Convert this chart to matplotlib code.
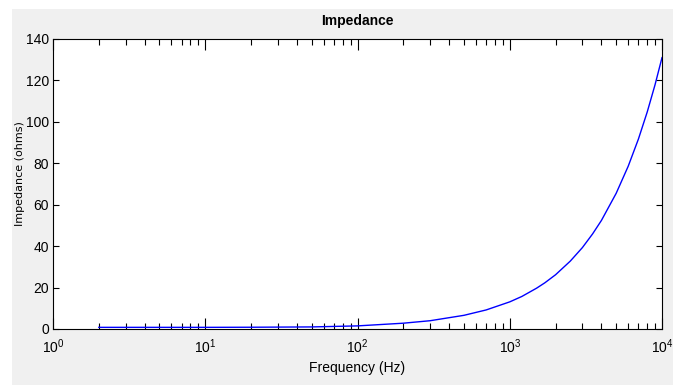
import matplotlib
matplotlib.use("Agg")
import matplotlib.pyplot as plt
from matplotlib.patches import Rectangle
from matplotlib.ticker import LogLocator, NullFormatter

# Values
freq_hz = [2, 5, 10, 20, 50, 100, 200, 300, 500, 700, 1000, 1200, 1500, 1700,
           2000, 2500, 3000, 3500, 4000, 5000, 6000, 7000, 8000, 9000, 10000]
impedance_ohms = [0.8, 0.8, 0.8, 0.85, 1.0, 1.5, 2.8, 4.0, 6.6, 9.2, 13.1, 15.7,
                  19.7, 22.3, 26.2, 32.8, 39.3, 45.9, 52.4, 65.5, 78.6, 91.7,
                  104.8, 117.9, 131.0]
y_ticks = [0, 20, 40, 60, 80, 100, 120, 140]

W, H = 678, 385
fig = plt.figure(figsize=(W / 100, H / 100), dpi=100)
fig.patch.set_facecolor("white")
fig.patches.append(Rectangle((12 / W, 0), (673 - 12) / W, (385 - 9) / H,
                             transform=fig.transFigure, facecolor="#f0f0f0",
                             edgecolor="none", zorder=-10))

ax = fig.add_axes([53 / W, 1 - 329 / H, (662 - 53) / W, (329 - 39) / H])
ax.plot(freq_hz, impedance_ohms, color="#0000ff", linewidth=1.0)

ax.set_xscale("log")
ax.set_xlim(1, 1e4)
ax.set_ylim(0, 140)
ax.set_yticks(y_ticks)
ax.xaxis.set_minor_locator(LogLocator(base=10, subs=range(2, 10)))
ax.xaxis.set_minor_formatter(NullFormatter())

font_fam = ["Liberation Sans", "DejaVu Sans"]
ax.tick_params(which="both", direction="in", top=True, right=True,
               width=0.8, colors="black")
ax.tick_params(which="major", axis="x", length=8, pad=6)
ax.tick_params(which="minor", axis="x", length=4)
ax.tick_params(which="major", axis="y", length=4, pad=3)
for lbl in ax.get_xticklabels() + ax.get_yticklabels():
    lbl.set_fontfamily(font_fam)
    lbl.set_fontsize(10)

for s in ax.spines.values():
    s.set_linewidth(0.8)

ax.set_title("Impedance", fontsize=10, fontweight="bold", pad=10, family=font_fam)
ax.set_xlabel("Frequency (Hz)", fontsize=10, labelpad=4, family=font_fam)
ax.text((20 - 53) / (662 - 53), (329 - 174) / (329 - 39), "Impedance (ohms)",
        transform=ax.transAxes, rotation=90, ha="center", va="center",
        fontsize=8, family="DejaVu Sans")

fig.savefig("out.png", dpi=100, facecolor=fig.get_facecolor())
